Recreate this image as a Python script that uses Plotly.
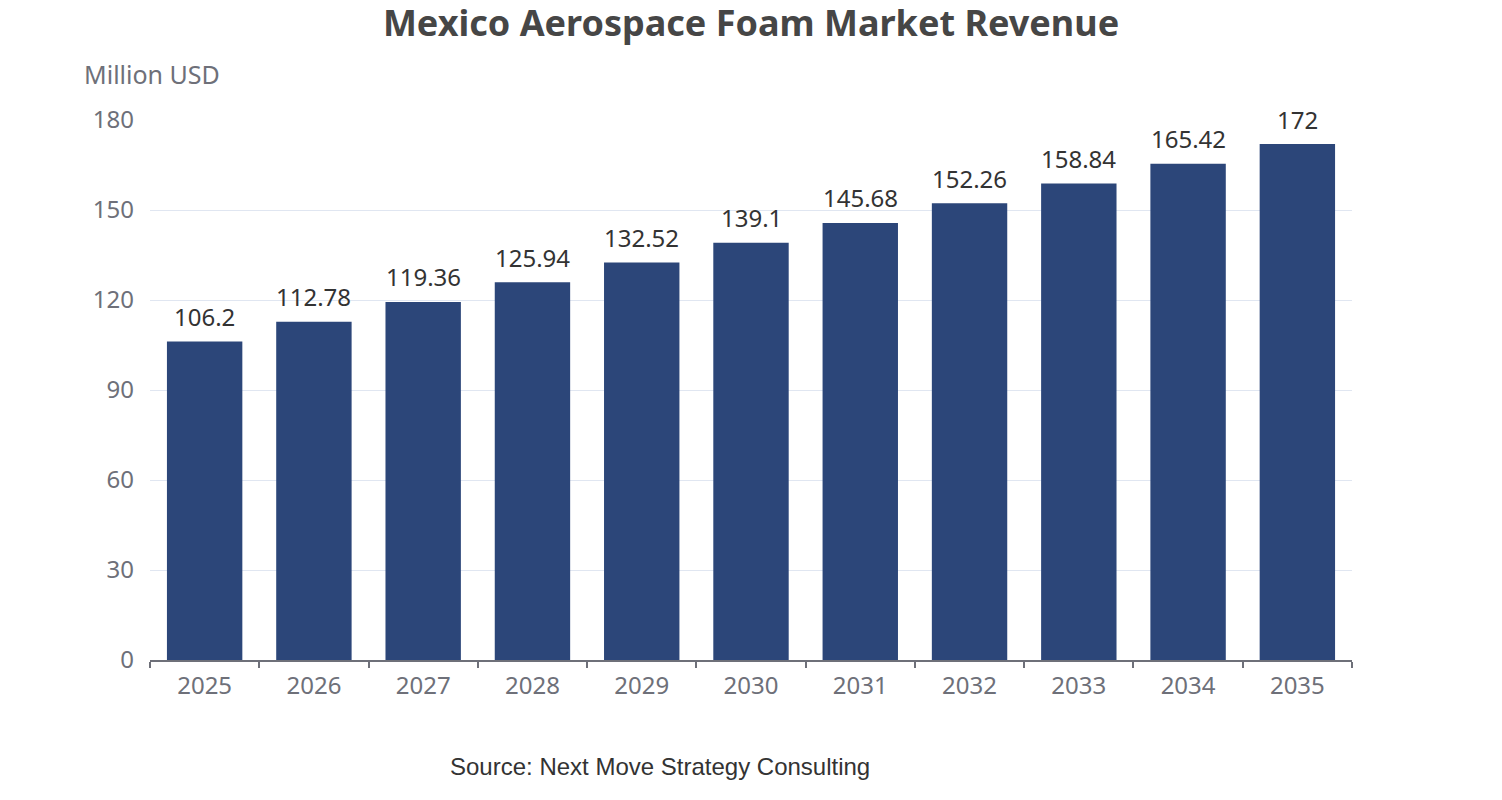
import plotly.graph_objects as go

years = ["2025", "2026", "2027", "2028", "2029", "2030", "2031", "2032", "2033", "2034", "2035"]
revenue = [106.2, 112.78, 119.36, 125.94, 132.52, 139.1, 145.68, 152.26, 158.84, 165.42, 172]
y_ticks = [0, 30, 60, 90, 120, 150, 180]

FONT = "Noto Sans"

fig = go.Figure(go.Bar(
    x=years,
    y=revenue,
    marker=dict(color="#2c4679", line=dict(width=0)),
    width=0.69,
))

# category axis positions are the category indices
label_annotations = [
    dict(x=i, y=v, xref="x", yref="y", text=f"{v:g}",
         showarrow=False, yanchor="middle", xanchor="center", yshift=25,
         font=dict(family=FONT, size=24, color="#333333"))
    for i, v in enumerate(revenue)
]

fig.update_layout(
    width=1502, height=800,
    margin=dict(l=142, r=158, t=112, b=148),
    paper_bgcolor="white", plot_bgcolor="white",
    showlegend=False,
    title=dict(
        text="<b>Mexico Aerospace Foam Market Revenue</b>",
        x=0.4947, xanchor="center", y=0.981, yanchor="middle",
        font=dict(family=FONT, size=36, color="#464646"),
    ),
    font=dict(family=FONT, size=24, color="#6e7079"),
    xaxis=dict(
        type="category",
        categoryorder="array", categoryarray=years,
        showline=True, linecolor="#6e7079", linewidth=1.5,
        ticks="outside", ticklen=6, tickcolor="#6e7079", tickwidth=1.5,
        tickson="boundaries",
        tickfont=dict(family=FONT, size=24, color="#6e7079"),
        showgrid=False,
        ticklabelstandoff=3,
        range=[-0.5, len(years) - 0.5],
    ),
    yaxis=dict(
        range=[0, 180],
        tickvals=y_ticks,
        showgrid=True, gridcolor="#e0e6f1", gridwidth=1,
        zeroline=False, showline=False,
        tickfont=dict(family=FONT, size=24, color="#6e7079"),
        ticklabelstandoff=15,
    ),
    annotations=label_annotations + [
        dict(text="Million USD", xref="paper", yref="paper",
             x=-0.0566, y=1.0852, xanchor="left", yanchor="middle",
             showarrow=False, font=dict(family=FONT, size=25, color="#6e7079")),
        dict(text="Source: Next Move Strategy Consulting", xref="paper", yref="paper",
             x=0.4243, y=-0.198, xanchor="center", yanchor="middle",
             showarrow=False, font=dict(family="Liberation Sans", size=24, color="#333333")),
    ],
)

fig.write_html("out.html")
